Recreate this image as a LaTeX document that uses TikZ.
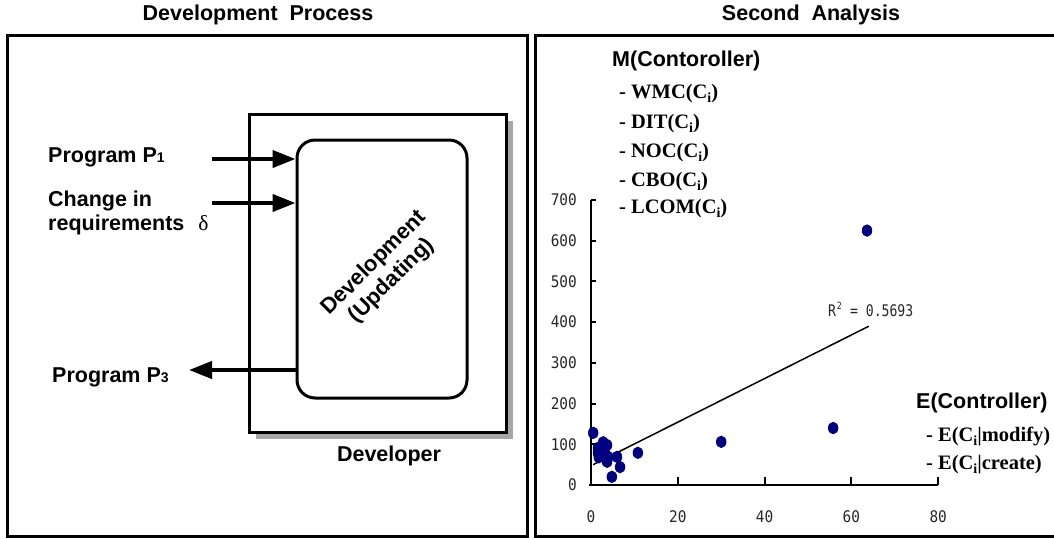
\documentclass[tikz,border=0pt]{standalone}
\usepackage{fontspec}
\usepackage{graphicx}
\setmainfont{Liberation Serif}
\setsansfont{Liberation Sans}
\setmonofont{DejaVu Sans Mono}
\usetikzlibrary{arrows.meta,shadows}
\definecolor{dotblue}{RGB}{0,0,128}
\definecolor{shadowgray}{RGB}{166,166,166}
% lowered bold subscript i used in the metric names
\newcommand\subi{\raisebox{-4pt}{\fontsize{14}{14}\selectfont\bfseries i}}
% smaller index digit of the program names
\newcommand\idx[1]{{\fontsize{14}{14}\selectfont #1}}
% condensed monospaced figures of the chart
\newcommand\axnum[1]{\scalebox{0.9}[1]{\fontsize{16}{16}\selectfont\ttfamily #1}}
\newcommand\fitnum[1]{\scalebox{0.82}[1]{\fontsize{16}{16}\selectfont\ttfamily #1}}

\begin{document}
\begin{tikzpicture}[x=1pt,y=-1pt,
  lbl/.style={font=\fontsize{21.5}{24}\selectfont\sffamily\bfseries, inner sep=0pt},
  metric/.style={font=\fontsize{20.5}{22}\selectfont\rmfamily\bfseries, inner sep=0pt, anchor=base west},
  ticklbl/.style={inner sep=0pt, text=black!85},
  panel/.style={draw, line width=3pt, inner sep=0pt},
  flow/.style={line width=4pt, -{Triangle[length=23pt,width=17pt]}},
  axisline/.style={line width=2pt},
  dot/.style={fill=dotblue}]

\useasboundingbox (0,0) rectangle (1054,538);

% ---------- panel frames and titles ----------
\node[panel, minimum width=520pt, minimum height=501pt] (lp) at (267,285.5) {};
\node[panel, minimum width=530pt, minimum height=501pt] (rp) at (800,285.5) {};
\node[lbl, anchor=base] (t1) at (258,20) {Development\ \ Process};
\node[lbl, anchor=base] (t2) at (811,20) {Second\ \ Analysis};

% ---------- development process ----------
\node[draw, line width=3pt, fill=white, minimum width=257pt, minimum height=318pt,
      drop shadow={shadow xshift=7pt, shadow yshift=-7pt, fill=shadowgray, opacity=1}]
      (devr) at (377.5,273) {};
\node[draw, line width=3pt, fill=white, rounded corners=18pt,
      minimum width=170pt, minimum height=258pt] (dev) at (382,269) {};
\node[lbl, rotate=45, align=center, font=\fontsize{22}{25}\selectfont\sffamily\bfseries]
      (devtxt) at (383,272) {Development\\(Updating)};
\node[lbl, anchor=base] (devlbl) at (389,461) {Developer};

\coordinate (p1s) at (212,159);
\coordinate (dls) at (212,203);
\coordinate (p3e) at (189,370);
\draw[flow] (p1s) -- (p1s -| dev.west);
\draw[flow] (dls) -- (dls -| dev.west);
\draw[flow] (p3e -| dev.west) -- (p3e);

\node[lbl, anchor=base west] (p1) at (48,162) {Program P\idx{1}};
\node[lbl, anchor=base west] (chg1) at (48,206) {Change in};
\node[lbl, anchor=base west] (chg2) at (48,230) {requirements\hspace{14pt}{\rmfamily\mdseries δ}};
\node[lbl, anchor=base west] (p3) at (52,382) {Program P\idx{3}};

% ---------- scatter chart ----------
\begin{scope}[shift={(591,485)}, x=4.34pt, y=0.4071pt]
  \draw[axisline] (0,700) -- (0,0) -- (80,0);
  \draw[axisline] (-0.4,0) -- (0,0);
  \foreach \v in {100,200,...,700}
    \draw[axisline] (0,\v) -- ++(5pt,0);
  \foreach \u in {20,40,60,80}
    \draw[axisline] (\u,0) -- ++(0,8pt);
  \foreach \v in {0,100,...,700}
    \node[ticklbl, anchor=east] at ([xshift=-14pt]0,\v) {\axnum{\v}};
  \foreach \u in {0,20,40,60,80}
    \node[ticklbl, anchor=base] at ([yshift=-37pt]\u,0) {\axnum{\u}};
  \draw[line width=1.5pt] (0.5,50) -- (64,390);
  \foreach \px/\py in {63.6/625, 55.8/140, 30/106, 10.8/79, 0.5/128, 2.8/105,
                       3.7/98, 1.6/91, 1.6/79, 1.8/68, 3.2/79, 4/69, 3.7/57,
                       6/69, 6.7/44, 4.8/20}
    \fill[dot] (\px,\py) ellipse [x radius=5.2pt, y radius=6.2pt];
\end{scope}

\node[ticklbl, anchor=base west] (r2) at (828,316)
  {\fitnum{R\hspace{1pt}\raisebox{7pt}{\fontsize{10}{10}\selectfont 2}\hspace{10pt}= 0.5693}};

\node[lbl, anchor=base west] (mh) at (612,66) {M(Contoroller)};
\node[metric] (m1) at (619,98) {- WMC(C\subi)};
\node[metric] (m2) at (619,128) {- DIT(C\subi)};
\node[metric] (m3) at (619,157) {- NOC(C\subi)};
\node[metric] (m4) at (619,186) {- CBO(C\subi)};
\node[metric] (m5) at (619,213) {- LCOM(C\subi)};

\node[lbl, anchor=base west] (eh) at (916,408) {E(Controller)};
\node[metric] (e1) at (926,441) {- E(C\subi|modify)};
\node[metric] (e2) at (926,469) {- E(C\subi|create)};
\end{tikzpicture}
\end{document}
